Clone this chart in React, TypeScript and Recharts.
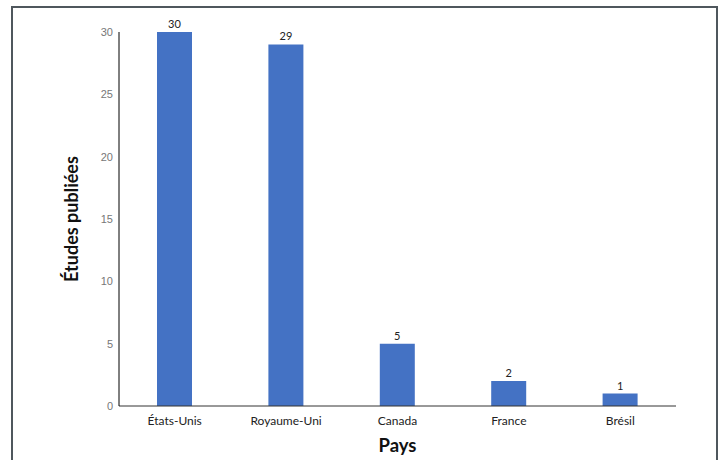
import { BarChart, Bar, XAxis, YAxis, LabelList, Label } from 'recharts';

const countries = ['États-Unis', 'Royaume-Uni', 'Canada', 'France', 'Brésil'];
const studies = [30, 29, 5, 2, 1];
const yTicks = [0, 5, 10, 15, 20, 25, 30];

const data = countries.map((pays, i) => ({ pays, etudes: studies[i] }));

const FONT = 'Lato, "Open Sans", sans-serif';

export default function App() {
  return (
    <div style={{ position: 'absolute', left: 0, top: 0, width: 719, height: 460, overflow: 'hidden', background: '#fff' }}>
      <div
        style={{
          position: 'absolute',
          left: 11,
          top: 6,
          width: 703,
          height: 480,
          borderTop: '2px solid #4f575d',
          borderLeft: '2px solid #4f575d',
          borderRight: '2px solid #4f575d',
        }}
      />
      <div style={{ position: 'absolute', left: 0, top: 0 }}>
        <BarChart width={719} height={460} data={data} margin={{ top: 32, right: 43, bottom: 0, left: 0 }}>
          <XAxis
            dataKey="pays"
            height={54}
            axisLine={{ stroke: '#333' }}
            tickLine={false}
            tickMargin={4}
            tick={{ fill: '#222', fontSize: 12, fontFamily: FONT }}
          >
            <Label
              value="Pays"
              position="insideBottom"
              offset={8}
              style={{ fill: '#111', fontSize: 18.5, fontWeight: 700, fontFamily: FONT }}
            />
          </XAxis>
          <YAxis
            width={119}
            domain={[0, 30]}
            ticks={yTicks}
            axisLine={{ stroke: '#000' }}
            tickLine={false}
            tickSize={4}
            tickMargin={2}
            tick={{ fill: '#777', fontSize: 11, fontFamily: '"Liberation Sans", Arial, sans-serif' }}
          >
            <Label
              value="Études publiées"
              angle={-90}
              position="insideLeft"
              offset={72}
              style={{ textAnchor: 'middle', fill: '#111', fontSize: 18, fontWeight: 700, fontFamily: FONT }}
            />
          </YAxis>
          <Bar dataKey="etudes" fill="#4472c4" barSize={35} isAnimationActive={false}>
            <LabelList
              dataKey="etudes"
              position="top"
              offset={4}
              style={{ fill: '#222', fontSize: 11, fontFamily: FONT }}
            />
          </Bar>
        </BarChart>
      </div>
    </div>
  );
}
